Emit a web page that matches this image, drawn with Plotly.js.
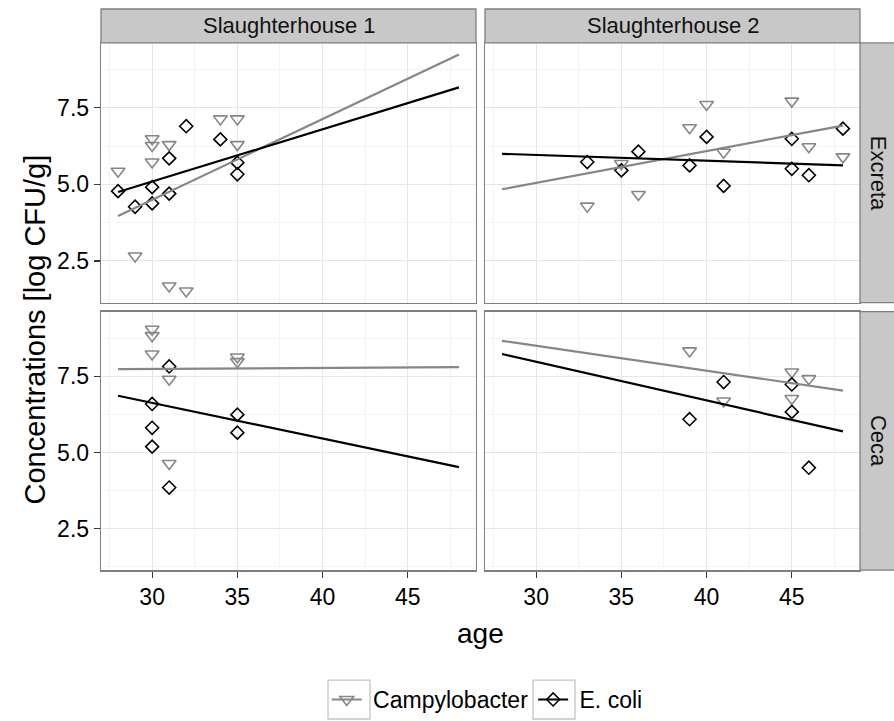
<!DOCTYPE html>
<html>
<head>
<meta charset="utf-8">
<script src="https://cdn.plot.ly/plotly-3.0.1.min.js"></script>
<style>html,body{margin:0;padding:0;background:#fff;}#chart{width:894px;height:721px;}</style>
</head>
<body>
<div id="chart"></div>
<script>
// ---- data ----
const facetCols = ["Slaughterhouse 1", "Slaughterhouse 2"];
const facetRows = ["Excreta", "Ceca"];
const seriesNames = ["Campylobacter", "E. coli"];
const xTicks = [30, 35, 40, 45];
const yTicks = [2.5, 5.0, 7.5];

// Slaughterhouse 1 – Excreta
const sh1ExcAgeC = [28, 29, 30, 30, 30, 31, 31, 32, 34, 35, 35];
const sh1ExcC    = [5.43, 2.66, 6.49, 6.27, 5.73, 6.30, 1.68, 1.52, 7.14, 7.14, 6.30];
const sh1ExcAgeE = [28, 29, 30, 30, 31, 31, 32, 34, 35, 35];
const sh1ExcE    = [4.78, 4.27, 4.91, 4.38, 5.85, 4.70, 6.90, 6.47, 5.71, 5.33];
// Slaughterhouse 2 – Excreta
const sh2ExcAgeC = [33, 35, 36, 39, 40, 41, 45, 46, 48];
const sh2ExcC    = [4.29, 5.68, 4.67, 6.85, 7.61, 6.05, 7.72, 6.23, 5.90];
const sh2ExcAgeE = [33, 35, 36, 39, 40, 41, 45, 45, 46, 48];
const sh2ExcE    = [5.73, 5.46, 6.07, 5.62, 6.55, 4.95, 6.49, 5.51, 5.30, 6.82];
// Slaughterhouse 1 – Ceca
const sh1CecAgeC = [30, 30, 30, 31, 31, 35, 35];
const sh1CecC    = [9.04, 8.83, 8.23, 7.40, 4.64, 8.13, 7.98];
const sh1CecAgeE = [30, 30, 30, 31, 31, 35, 35];
const sh1CecE    = [6.59, 5.81, 5.19, 7.82, 3.85, 6.24, 5.65];
// Slaughterhouse 2 – Ceca
const sh2CecAgeC = [39, 41, 45, 45, 46];
const sh2CecC    = [8.33, 6.69, 7.64, 6.77, 7.42];
const sh2CecAgeE = [39, 41, 45, 45, 46];
const sh2CecE    = [6.09, 7.31, 7.23, 6.33, 4.50];

// linear fit lines (value at the age range ends)
const fitAge = [28, 48];
const sh1ExcFitC = [3.97, 9.24];
const sh1ExcFitE = [4.75, 8.17];
const sh2ExcFitC = [4.84, 6.92];
const sh2ExcFitE = [6.00, 5.62];
const sh1CecFitC = [7.73, 7.80];
const sh1CecFitE = [6.86, 4.52];
const sh2CecFitC = [8.66, 7.03];
const sh2CecFitE = [8.23, 5.69];

// ---- layout helpers ----
const W = 894, H = 721;
const px = v => v / W;
const py = v => 1 - v / H;
const colPx = [[101, 476], [485, 860]];
const rowPx = [[43, 303], [312, 571]];
const stripTop = 9, stripRight = 896;

const greyC = "#868686", blackE = "#000000";
const FONT = "Liberation Sans, Arial, Helvetica, sans-serif";
const NB = "\u00a0";

const panels = [
  {r: 0, c: 0, ac: sh1ExcAgeC, vc: sh1ExcC, ae: sh1ExcAgeE, ve: sh1ExcE, fc: sh1ExcFitC, fe: sh1ExcFitE},
  {r: 0, c: 1, ac: sh2ExcAgeC, vc: sh2ExcC, ae: sh2ExcAgeE, ve: sh2ExcE, fc: sh2ExcFitC, fe: sh2ExcFitE},
  {r: 1, c: 0, ac: sh1CecAgeC, vc: sh1CecC, ae: sh1CecAgeE, ve: sh1CecE, fc: sh1CecFitC, fe: sh1CecFitE},
  {r: 1, c: 1, ac: sh2CecAgeC, vc: sh2CecC, ae: sh2CecAgeE, ve: sh2CecE, fc: sh2CecFitC, fe: sh2CecFitE}
];

const traces = [];
const layout = {
  width: W, height: H,
  margin: {l: 0, r: 0, t: 0, b: 0},
  paper_bgcolor: "#ffffff", plot_bgcolor: "#ffffff",
  font: {family: FONT, size: 22, color: "#000"},
  showlegend: true,
  legend: {orientation: "h", x: 0.545, xanchor: "center", y: py(700), yanchor: "middle",
           font: {family: FONT, size: 23, color: "#000"}, itemwidth: 30, tracegroupgap: 0, bgcolor: "rgba(0,0,0,0)"},
  shapes: [], annotations: []
};

panels.forEach((p, i) => {
  const n = i + 1;
  const xa = "x" + (n === 1 ? "" : n), ya = "y" + (n === 1 ? "" : n);
  const xk = "xaxis" + (n === 1 ? "" : n), yk = "yaxis" + (n === 1 ? "" : n);
  const bottom = p.r === 1, left = p.c === 0;
  layout[xk] = {
    domain: [px(colPx[p.c][0]), px(colPx[p.c][1])], anchor: ya,
    range: [27, 49], tickmode: "array", tickvals: xTicks, ticktext: xTicks.map(String),
    showticklabels: bottom, ticks: bottom ? "outside" : "", ticklen: 6, tickwidth: 1.2, tickcolor: "#333",
    tickfont: {family: FONT, size: 23, color: "#000"},
    showgrid: true, gridcolor: "#e6e6e6", gridwidth: 1,
    minor: {tickvals: [27.5, 32.5, 37.5, 42.5, 47.5], showgrid: true, gridcolor: "#f4f4f4", gridwidth: 1, ticks: ""},
    showline: true, mirror: true, linecolor: "#7f7f7f", linewidth: 1.3, zeroline: false, fixedrange: true
  };
  layout[yk] = {
    domain: [py(rowPx[p.r][1]), py(rowPx[p.r][0])], anchor: xa,
    range: [1.14, 9.62], tickmode: "array", tickvals: yTicks, ticktext: yTicks.map(v => v.toFixed(1)),
    showticklabels: left, ticks: left ? "outside" : "", ticklen: 6, tickwidth: 1.2, tickcolor: "#333",
    tickfont: {family: FONT, size: 23, color: "#000"},
    showgrid: true, gridcolor: "#e6e6e6", gridwidth: 1,
    minor: {tickvals: [1.25, 3.75, 6.25, 8.75], showgrid: true, gridcolor: "#f4f4f4", gridwidth: 1, ticks: ""},
    showline: true, mirror: true, linecolor: "#7f7f7f", linewidth: 1.3, zeroline: false, fixedrange: true
  };
  traces.push({x: p.ac, y: p.vc, xaxis: xa, yaxis: ya, type: "scatter", mode: "markers", name: seriesNames[0],
    legendgroup: "c", showlegend: false, hoverinfo: "skip",
    marker: {symbol: "triangle-down-open", size: 12, color: greyC, line: {width: 1.6, color: greyC}}});
  traces.push({x: p.ae, y: p.ve, xaxis: xa, yaxis: ya, type: "scatter", mode: "markers", name: seriesNames[1],
    legendgroup: "e", showlegend: false, hoverinfo: "skip",
    marker: {symbol: "diamond-open", size: 10, color: blackE, line: {width: 1.6, color: blackE}}});
  traces.push({x: fitAge, y: p.fc, xaxis: xa, yaxis: ya, type: "scatter", mode: "lines", name: seriesNames[0],
    legendgroup: "c", showlegend: false, hoverinfo: "skip", line: {color: greyC, width: 2.2}});
  traces.push({x: fitAge, y: p.fe, xaxis: xa, yaxis: ya, type: "scatter", mode: "lines", name: seriesNames[1],
    legendgroup: "e", showlegend: false, hoverinfo: "skip", line: {color: blackE, width: 2.2}});
});

// legend entries (line + marker keys)
traces.push({x: [null], y: [null], type: "scatter", mode: "lines+markers", name: NB + seriesNames[0], legendgroup: "c",
  showlegend: true, line: {color: greyC, width: 2}, marker: {symbol: "triangle-down-open", size: 12, color: greyC, line: {width: 1.6, color: greyC}}});
traces.push({x: [null], y: [null], type: "scatter", mode: "lines+markers", name: NB + seriesNames[1], legendgroup: "e",
  showlegend: true, line: {color: blackE, width: 2}, marker: {symbol: "diamond-open", size: 10, color: blackE, line: {width: 1.6, color: blackE}}});

// facet strips
const stripFill = "#c8c8c8", stripLine = "#7f7f7f";
facetCols.forEach((t, c) => {
  layout.shapes.push({type: "rect", xref: "paper", yref: "paper", x0: px(colPx[c][0]), x1: px(colPx[c][1]),
    y0: py(rowPx[0][0]), y1: py(stripTop), fillcolor: stripFill, line: {color: stripLine, width: 1.3}, layer: "above"});
  layout.annotations.push({text: t, xref: "paper", yref: "paper", x: px((colPx[c][0] + colPx[c][1]) / 2),
    y: py((stripTop + rowPx[0][0]) / 2), xanchor: "center", yanchor: "middle", showarrow: false,
    font: {family: FONT, size: 22, color: "#111"}});
});
facetRows.forEach((t, r) => {
  layout.shapes.push({type: "rect", xref: "paper", yref: "paper", x0: px(colPx[1][1]), x1: px(stripRight),
    y0: py(rowPx[r][1]), y1: py(rowPx[r][0]), fillcolor: stripFill, line: {color: stripLine, width: 1.3}, layer: "above"});
  layout.annotations.push({text: t, xref: "paper", yref: "paper", x: px(878),
    y: py((rowPx[r][0] + rowPx[r][1]) / 2), xanchor: "center", yanchor: "middle", textangle: 90, showarrow: false,
    font: {family: FONT, size: 22, color: "#111"}});
});

// legend key boxes
[[328, 370], [533, 575]].forEach(b => {
  layout.shapes.push({type: "rect", xref: "paper", yref: "paper", x0: px(b[0]), x1: px(b[1]),
    y0: py(720), y1: py(681), fillcolor: "rgba(0,0,0,0)", line: {color: "#c4c4c4", width: 1.3}, layer: "above"});
});

// axis titles
layout.annotations.push({text: "age", xref: "paper", yref: "paper", x: px((colPx[0][0] + colPx[1][1]) / 2), y: py(634),
  xanchor: "center", yanchor: "middle", showarrow: false, font: {family: FONT, size: 28, color: "#000"}});
layout.annotations.push({text: "Concentrations [log CFU/g]", xref: "paper", yref: "paper", x: px(35),
  y: py(330), xanchor: "center", yanchor: "middle", textangle: -90, showarrow: false,
  font: {family: FONT, size: 29, color: "#000"}});

Plotly.newPlot("chart", traces, layout, {staticPlot: true, displayModeBar: false});
</script>
</body>
</html>
